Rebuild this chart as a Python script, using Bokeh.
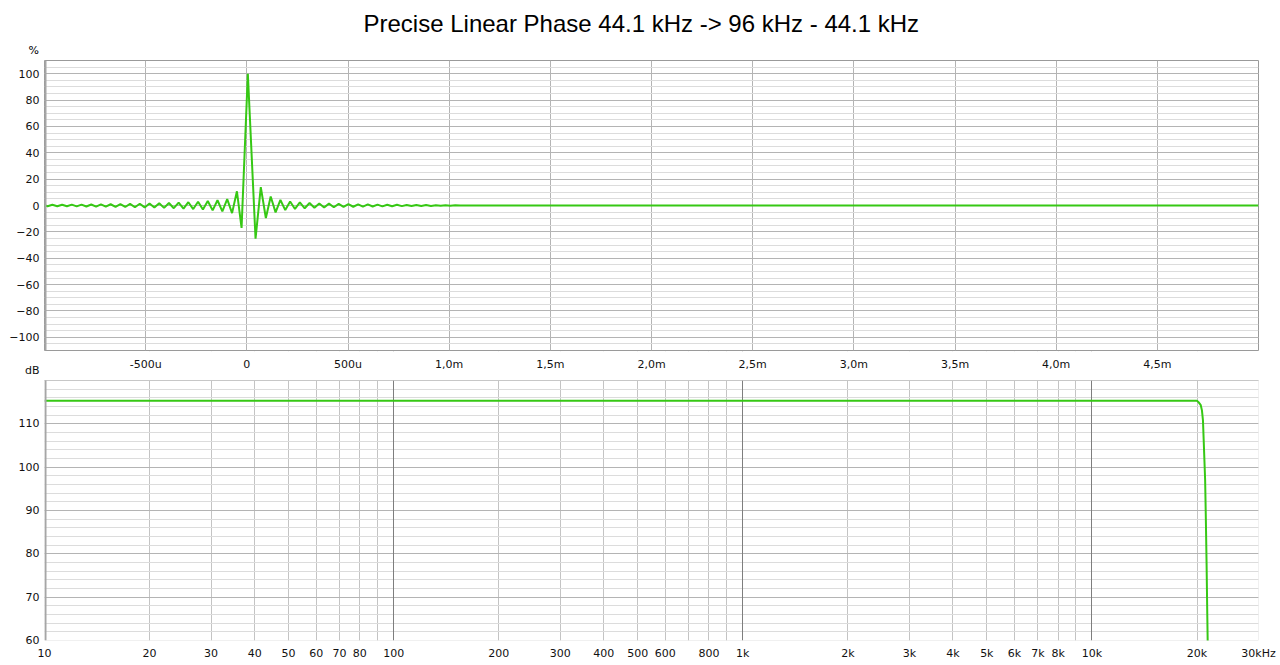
from bokeh.plotting import figure
from bokeh.layouts import column
from bokeh.models import (FixedTicker, Range1d, Grid, Title, BoxAnnotation, LinearAxis,
                          LinearScale)
from bokeh.embed import file_html
from bokeh.resources import INLINE

# ---------------- data ----------------
title_text = "Precise Linear Phase 44.1 kHz -> 96 kHz - 44.1 kHz"

impulse_time_us = [
    -1000, -985, -961, -937, -913, -889, -865, -841, -817, -793, -769, -745, -721, -697,
    -673, -649, -625, -601, -577, -553, -529, -505, -481, -457, -433, -409, -385, -361,
    -337, -313, -289, -265, -241, -217, -193, -169, -145, -121, -97, -73, -49, -26,
    5,
    43, 69, 94, 118, 142, 166, 190, 214, 238, 262, 286, 310, 334, 358, 382, 406, 430,
    454, 478, 502, 526, 550, 574, 598, 622, 646, 670, 694, 718, 742, 766, 790, 814,
    838, 862, 886, 910, 934, 958, 982, 1006, 1030, 1054, 1078, 1102, 1126, 1150, 1174,
    5000,
]
impulse_pct = [
    0.2, -0.55, 0.56, -0.58, 0.6, -0.62, 0.64, -0.67, 0.7, -0.72, 0.76, -0.8, 0.85, -0.9,
    0.95, -1.0, 1.05, -1.12, 1.2, -1.3, 1.35, -1.45, 1.55, -1.6, 1.7, -1.8, 1.9, -2.05,
    2.2, -2.35, 2.5, -2.7, 2.9, -3.1, 3.4, -3.7, 4.0, -4.4, 4.8, -5.8, 10.8, -17.0,
    100.0,
    -25.2, 14.0, -9.5, 6.8, -5.2, 4.2, -3.5, 3.0, -2.6, 2.3, -2.1, 1.9, -1.75, 1.6, -1.5, 1.4, -1.3,
    1.2, -1.1, 1.0, -0.95, 0.9, -0.85, 0.8, -0.75, 0.7, -0.65, 0.6, -0.55, 0.52, -0.48, 0.45, -0.42,
    0.38, -0.35, 0.32, -0.3, 0.26, -0.22, 0.18, -0.15, 0.12, -0.09, 0.07, -0.05, 0.03, -0.02, 0.0,
    0.0,
]

freq_hz = [10, 20, 50, 100, 1000, 10000, 19000, 20000, 20200, 20500, 20660, 20800,
           20900, 21000, 21100, 21200, 21300, 21400, 21500]
level_db = [115.3, 115.3, 115.3, 115.3, 115.3, 115.3, 115.3, 115.3, 115.0, 114.3, 113.1, 110.8,
            106.2, 101.6, 97.0, 88.0, 78.0, 66.0, 55.0]

time_tick_values = [-1000, -500, 0, 500, 1000, 1500, 2000, 2500, 3000, 3500, 4000, 4500, 5000]
time_tick_labels = ["", "-500u", "0", "500u", "1,0m", "1,5m", "2,0m", "2,5m", "3,0m",
                    "3,5m", "4,0m", "4,5m", ""]

pct_tick_values = [-100, -80, -60, -40, -20, 0, 20, 40, 60, 80, 100]
db_tick_values = [60, 70, 80, 90, 100, 110]
db_caption_pos = 122.2       # "dB" caption sits just above the top of the dB panel

freq_tick_values = [10, 20, 30, 40, 50, 60, 70, 80, 100, 200, 300, 400, 500, 600, 800,
                    1000, 2000, 3000, 4000, 5000, 6000, 7000, 8000, 10000, 20000, 30000]
freq_tick_labels = ["10", "20", "30", "40", "50", "60", "70", "80", "100", "200", "300",
                    "400", "500", "600", "800", "1k", "2k", "3k", "4k", "5k", "6k", "7k",
                    "8k", "10k", "20k", "30kHz"]
freq_minor_grid = [20, 30, 40, 50, 60, 70, 80, 90, 200, 300, 400, 500, 600, 700, 800, 900,
                   2000, 3000, 4000, 5000, 6000, 7000, 8000, 9000, 20000]
freq_decade_grid = [100, 1000, 10000]

# ---------------- style ----------------
GREEN = "#36c814"
FONT = "DejaVu Sans"
MAJ = "#b4b4b4"
MIN = "#dcdcdc"
TXT = "#111111"
EDGE = "#9a9a9a"
SHADE = "#a6a6a6"

def style_axis(ax):
    ax.major_tick_line_color = None
    ax.minor_tick_line_color = None
    ax.major_tick_out = 0
    ax.major_tick_in = 0
    ax.minor_tick_out = 0
    ax.minor_tick_in = 0
    ax.major_label_text_font = FONT
    ax.major_label_text_font_size = "11px"
    ax.major_label_text_color = TXT
    ax.axis_line_color = None

def style_title(t, size, font, align, offset, standoff):
    t.text_font = font
    t.text_font_size = size
    t.text_font_style = "normal"
    t.text_color = "#000000"
    t.align = align
    t.offset = offset
    t.standoff = standoff

# ---------------- top: impulse ----------------
p1 = figure(width=1280, height=351, x_range=Range1d(-1000, 5000), y_range=Range1d(-110, 110),
            output_backend="svg", toolbar_location=None, title=title_text,
            min_border_left=44, min_border_right=22, min_border_top=60, min_border_bottom=1)
style_title(p1.title, "24px", "Liberation Sans", "left", 319, 2)
pct_title = Title(text="%")
style_title(pct_title, "11px", FONT, "left", -16, 8)
p1.add_layout(pct_title, "above")
p1.background_fill_color = "white"
p1.border_fill_color = "white"
p1.outline_line_color = EDGE
p1.xaxis[0].visible = False
style_axis(p1.yaxis[0])
p1.yaxis[0].major_label_standoff = 5
p1.yaxis[0].ticker = FixedTicker(ticks=pct_tick_values)
p1.xgrid[0].ticker = FixedTicker(ticks=time_tick_values)
p1.xgrid[0].grid_line_color = MAJ
p1.ygrid[0].ticker = FixedTicker(ticks=pct_tick_values, minor_ticks=list(range(-110, 111, 5)))
p1.ygrid[0].grid_line_color = MAJ
p1.ygrid[0].minor_grid_line_color = MIN

p1.line(impulse_time_us, impulse_pct, line_color=GREEN, line_width=2)

p1.add_layout(BoxAnnotation(right=2, right_units="screen", fill_color=SHADE,
                            fill_alpha=1.0, line_color=None))

# ---------------- bottom: frequency response ----------------
# The frame starts 29 px above the 120 dB edge; that band (masked white) carries
# the time-axis labels of the impulse plot and the "dB" caption.
px_per_db = 260 / 60
p2 = figure(width=1280, height=314, x_axis_type="log", x_range=Range1d(10, 30000),
            y_range=Range1d(60, 120 + 29 / px_per_db), output_backend="svg",
            toolbar_location=None,
            min_border_left=44, min_border_right=22, min_border_top=0, min_border_bottom=25)
p2.background_fill_color = "white"
p2.border_fill_color = "white"
p2.outline_line_color = None
style_axis(p2.xaxis[0])
style_axis(p2.yaxis[0])
p2.xaxis[0].ticker = FixedTicker(ticks=freq_tick_values)
p2.xaxis[0].major_label_overrides = {v: l for v, l in zip(freq_tick_values, freq_tick_labels)}
p2.xaxis[0].major_label_standoff = 6
p2.yaxis[0].major_label_standoff = 5
p2.yaxis[0].ticker = FixedTicker(ticks=db_tick_values + [db_caption_pos])
p2.yaxis[0].major_label_overrides = {db_caption_pos: "dB"}

# time axis of the impulse plot, drawn into the band
p2.extra_x_ranges = {"time": Range1d(-1000, 5000)}
p2.extra_x_scales = {"time": LinearScale()}
time_axis = LinearAxis(x_range_name="time", ticker=FixedTicker(ticks=time_tick_values))
style_axis(time_axis)
time_axis.major_label_overrides = {v: l for v, l in zip(time_tick_values, time_tick_labels)}
time_axis.major_label_standoff = -19
p2.add_layout(time_axis, "above")

p2.xgrid[0].ticker = FixedTicker(ticks=freq_minor_grid)
p2.xgrid[0].grid_line_color = "#c4c4c4"
p2.ygrid[0].ticker = FixedTicker(ticks=db_tick_values + [120], minor_ticks=list(range(60, 121, 2)))
p2.ygrid[0].grid_line_color = MAJ
p2.ygrid[0].minor_grid_line_color = MIN
p2.add_layout(Grid(dimension=0, ticker=FixedTicker(ticks=freq_decade_grid),
                   grid_line_color="#7e7e7e"))

p2.line(freq_hz, level_db, line_color=GREEN, line_width=2)

p2.add_layout(BoxAnnotation(bottom=120, fill_color="white", fill_alpha=1.0, line_color=None,
                            level="underlay"))
p2.add_layout(BoxAnnotation(top=120, fill_alpha=0.0, line_color=EDGE, line_width=1))
p2.add_layout(BoxAnnotation(top=120, right=2, right_units="screen", fill_color=SHADE,
                            fill_alpha=1.0, line_color=None))

layout = column(p1, p2, spacing=0)
open("out.html", "w").write(file_html(layout, INLINE))
